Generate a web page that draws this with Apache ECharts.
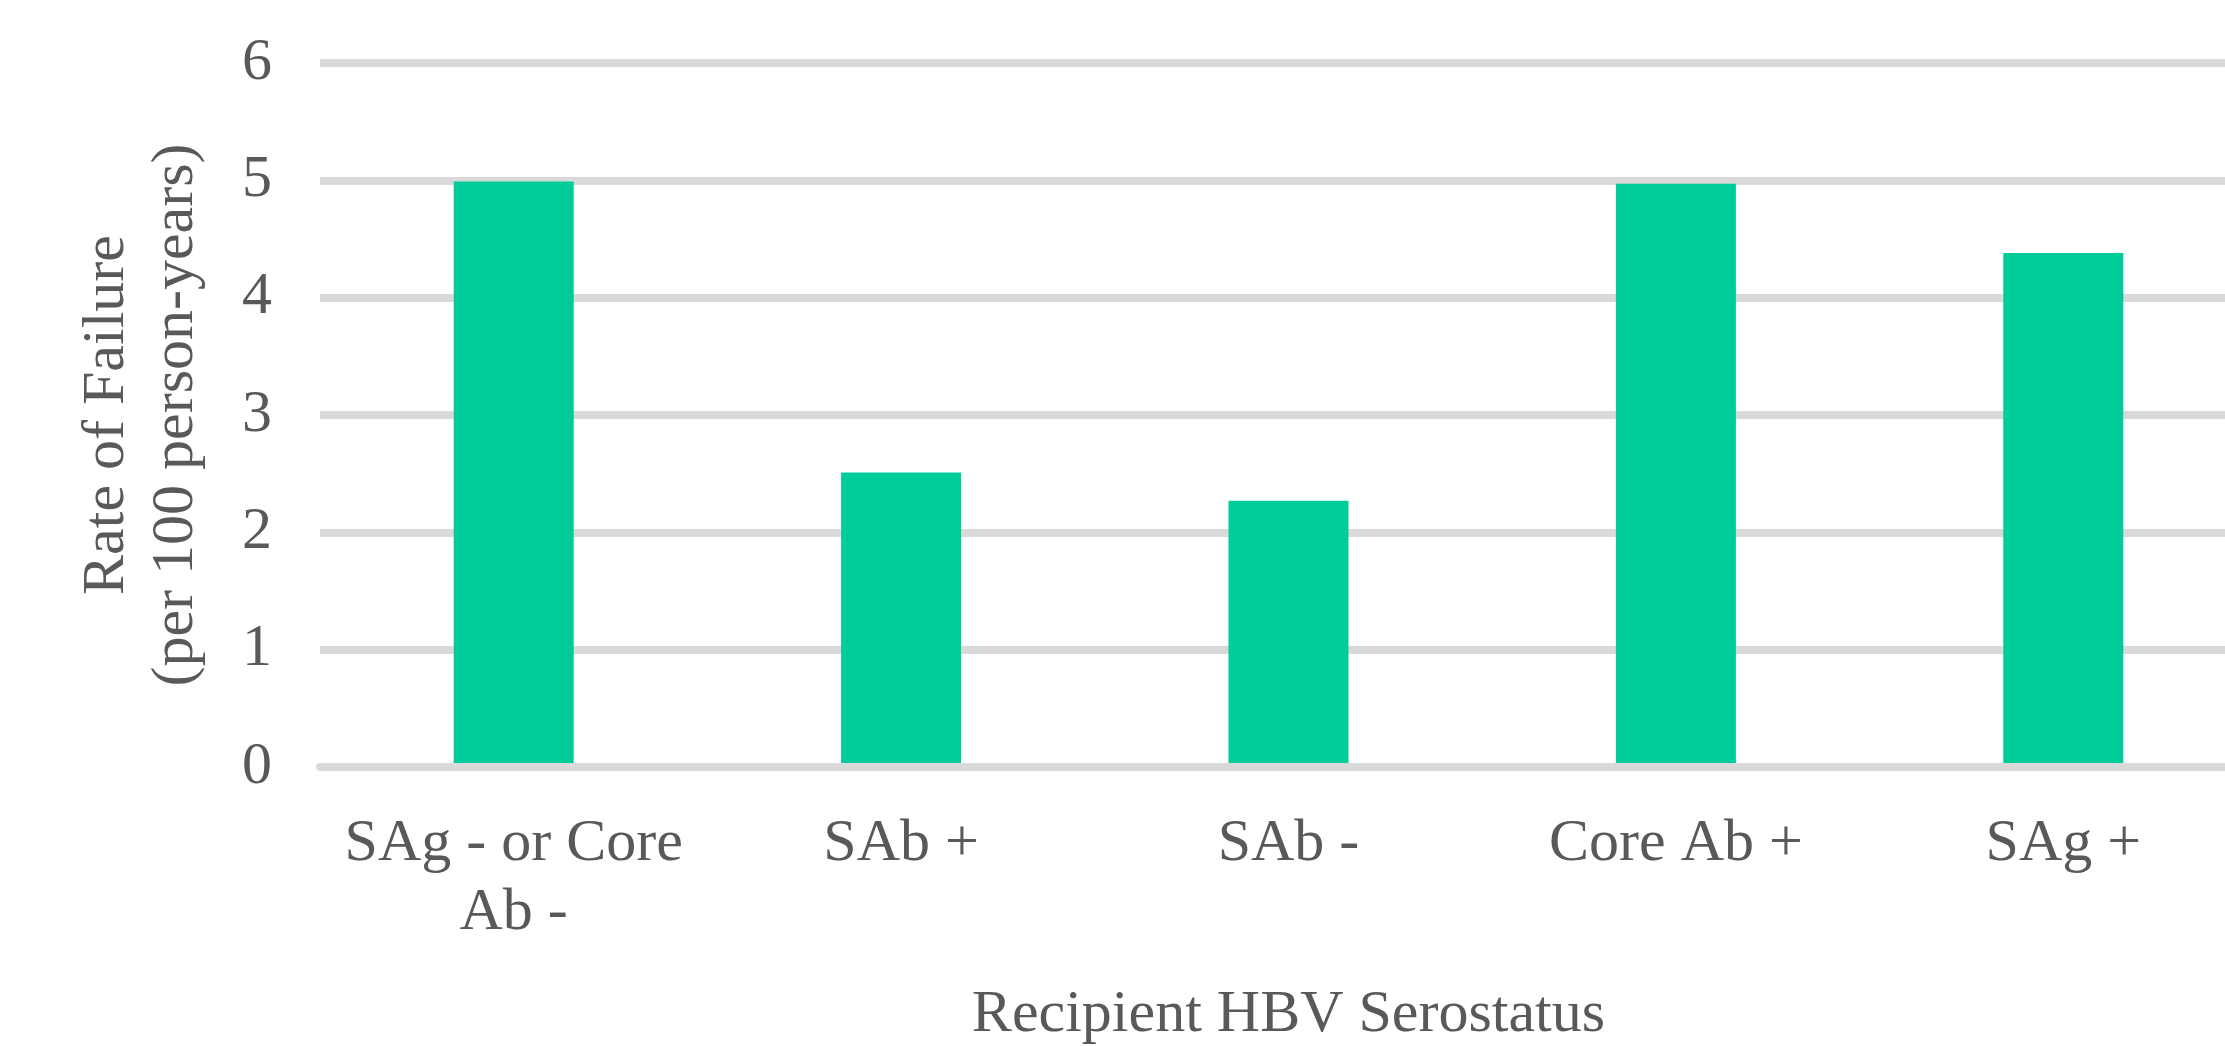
<!DOCTYPE html>
<html>
<head>
<meta charset="utf-8">
<script src="https://cdn.jsdelivr.net/npm/echarts@6/dist/echarts.min.js"></script>
<style>
html,body{margin:0;padding:0;background:#fff;overflow:hidden;width:2225px;height:1046px;}
#chart{width:2257px;height:1046px;}
</style>
</head>
<body>
<div id="chart"></div>
<script>
const categories = ["SAg - or Core\nAb -", "SAb +", "SAb -", "Core Ab +", "SAg +"];
const rates = [4.99, 2.51, 2.27, 4.97, 4.38];
const yTicks = [0, 1, 2, 3, 4, 5, 6];

const FONT = '"Liberation Serif", "Times New Roman", serif';
const TXT = '#595959';
const GRID = '#d9d9d9';

const chart = echarts.init(document.getElementById('chart'), null, {renderer: 'canvas'});
chart.setOption({
  backgroundColor: '#ffffff',
  animation: false,
  grid: {left: 320, right: 0, top: 63, bottom: 279, containLabel: false, outerBoundsMode: 'none'},
  xAxis: {
    type: 'category',
    data: categories,
    z: 10,
    name: 'Recipient HBV Serostatus',
    nameLocation: 'middle',
    nameGap: 214,
    nameTextStyle: {fontFamily: FONT, fontSize: 60, color: TXT, lineHeight: 69},
    axisLine: {show: true, lineStyle: {color: GRID, width: 8}},
    axisTick: {show: false},
    axisLabel: {fontFamily: FONT, fontSize: 60, color: TXT, lineHeight: 69, margin: 43, interval: 0}
  },
  yAxis: {
    type: 'value',
    min: yTicks[0],
    max: yTicks[yTicks.length - 1],
    interval: 1,
    name: 'Rate of Failure\n(per 100 person-years)',
    nameLocation: 'middle',
    nameGap: 109,
    nameRotate: 90,
    nameTextStyle: {fontFamily: FONT, fontSize: 60, color: TXT, lineHeight: 69},
    axisLine: {show: false},
    axisTick: {show: false},
    axisLabel: {fontFamily: FONT, fontSize: 60, color: TXT, margin: 48},
    splitLine: {show: true, lineStyle: {color: GRID, width: 8}}
  },
  series: [{
    type: 'bar',
    data: rates,
    barWidth: 120,
    itemStyle: {color: '#00CC99'}
  }]
});
</script>
</body>
</html>
